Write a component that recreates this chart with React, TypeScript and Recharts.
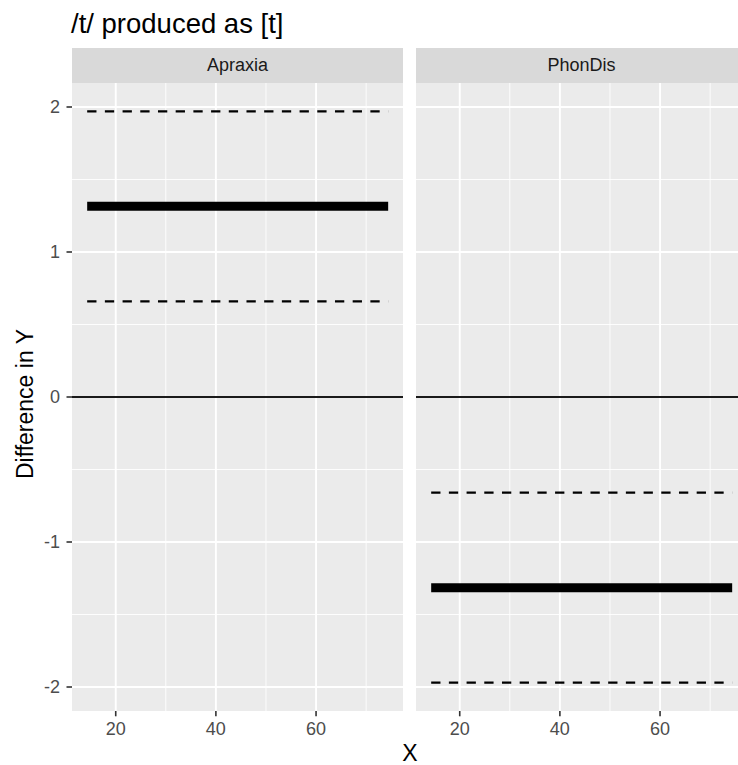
import React from "react";
import {
  CartesianGrid,
  Line,
  LineChart,
  ReferenceLine,
  XAxis,
  YAxis,
} from "recharts";

// facets and the per-facet estimate with its interval
const facets = ["Apraxia", "PhonDis"];
const xSpan = [14.3, 74.4];
const estimate = [1.315, -1.315];
const lower = [0.66, -1.97];
const upper = [1.97, -0.66];

const xTicks = [20, 40, 60];
const xMinor = [30, 50, 70];
const yTicks = [-2, -1, 0, 1, 2];
const yMinor = [-1.5, -0.5, 0.5, 1.5];

const FONT = "'Liberation Sans', Arial, Helvetica, sans-serif";
const PANEL_W = 331;
const PANEL_H = 628;
const PANEL_TOP = 83;
const Y_AXIS_W = 72;

function Panel({ i, left, showY }: { i: number; left: number; showY: boolean }) {
  const data = xSpan.map((x) => ({
    x,
    est: estimate[i],
    lo: lower[i],
    hi: upper[i],
  }));
  const yw = showY ? Y_AXIS_W : 0;

  return (
    <div style={{ position: "absolute", left: left - yw, top: PANEL_TOP }}>
      <LineChart
        width={yw + PANEL_W}
        height={PANEL_H + 40}
        data={data}
        margin={{ top: 0, right: 0, bottom: 0, left: 0 }}
        style={{ fontFamily: FONT }}
      >
        <CartesianGrid
          fill="#ebebeb"
          fillOpacity={1}
          stroke="#ffffff"
          strokeWidth={0.9}
          horizontalValues={yMinor}
          verticalValues={xMinor}
        />
        <CartesianGrid
          stroke="#ffffff"
          strokeWidth={1.9}
          horizontalValues={yTicks}
          verticalValues={xTicks}
        />
        <XAxis
          type="number"
          dataKey="x"
          domain={[11.27, 77.36]}
          ticks={xTicks}
          allowDataOverflow
          height={40}
          axisLine={false}
          tickSize={5.3}
          tickMargin={5.5}
          tickLine={{ stroke: "#333333", strokeWidth: 1.6 }}
          tick={{ fill: "#4d4d4d", fontSize: 18 }}
        />
        <YAxis
          type="number"
          domain={[-2.1655, 2.1655]}
          ticks={yTicks}
          allowDataOverflow
          hide={!showY}
          width={yw}
          axisLine={false}
          tickSize={5.5}
          tickMargin={6.5}
          tickLine={{ stroke: "#333333", strokeWidth: 1.6 }}
          tick={{ fill: "#4d4d4d", fontSize: 18 }}
        />
        <ReferenceLine y={0} stroke="#1a1a1a" strokeWidth={2.1} />
        <Line
          dataKey="hi"
          stroke="#000000"
          strokeWidth={2.3}
          strokeDasharray="9.3 8.4"
          dot={false}
          activeDot={false}
          isAnimationActive={false}
        />
        <Line
          dataKey="lo"
          stroke="#000000"
          strokeWidth={2.3}
          strokeDasharray="9.3 8.4"
          dot={false}
          activeDot={false}
          isAnimationActive={false}
        />
        <Line
          dataKey="est"
          stroke="#000000"
          strokeWidth={9}
          dot={false}
          activeDot={false}
          isAnimationActive={false}
        />
      </LineChart>
    </div>
  );
}

export default function App() {
  const panelLefts = [72, 416];
  return (
    <div
      style={{
        position: "absolute",
        left: 0,
        top: 0,
        width: 738,
        height: 765,
        overflow: "hidden",
        background: "#ffffff",
        fontFamily: FONT,
      }}
    >
      <div
        style={{
          position: "absolute",
          left: 71,
          top: 10,
          fontSize: 27.5,
          lineHeight: 1,
          color: "#000000",
          whiteSpace: "nowrap",
        }}
      >
        /t/ produced as [t]
      </div>

      {facets.map((f, i) => (
        <div
          key={f}
          style={{
            position: "absolute",
            left: panelLefts[i],
            top: 48,
            width: PANEL_W,
            height: 35,
            background: "#d9d9d9",
            color: "#1a1a1a",
            fontSize: 18,
            display: "flex",
            alignItems: "center",
            justifyContent: "center",
          }}
        >
          {f}
        </div>
      ))}

      {facets.map((f, i) => (
        <Panel key={f} i={i} left={panelLefts[i]} showY={i === 0} />
      ))}

      <div
        style={{
          position: "absolute",
          left: 24.5 - 150,
          top: 404 - 12,
          width: 300,
          height: 24,
          lineHeight: "24px",
          textAlign: "center",
          fontSize: 23,
          color: "#000000",
          transform: "rotate(-90deg)",
          whiteSpace: "nowrap",
        }}
      >
        Difference in Y
      </div>

      <div
        style={{
          position: "absolute",
          left: 410 - 50,
          top: 742,
          width: 100,
          textAlign: "center",
          fontSize: 23,
          lineHeight: 1,
          color: "#000000",
        }}
      >
        X
      </div>
    </div>
  );
}
